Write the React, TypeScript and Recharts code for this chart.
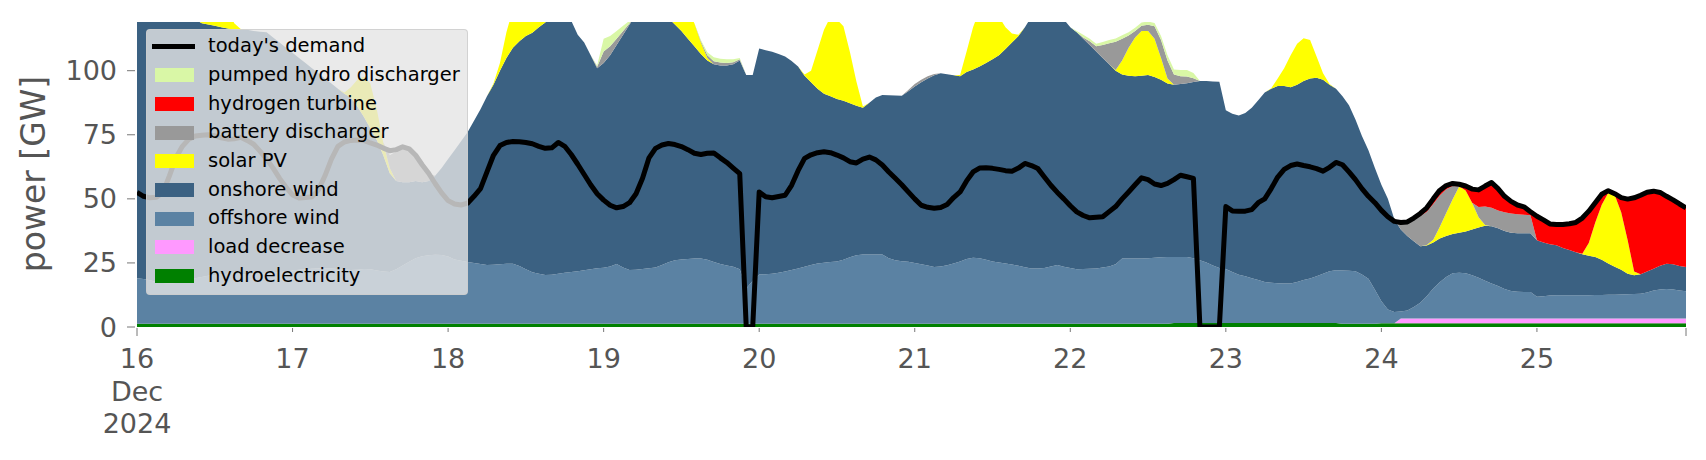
import React from 'react'
import { ComposedChart, Area, Line, XAxis, YAxis } from 'recharts'

// hourly values, 16 Dec 2024 00:00 .. 25 Dec 2024 23:00, one row per day
const dayLabels = ['16', '17', '18', '19', '20', '21', '22', '23', '24', '25']

const demand = [
  52.5, 51, 50.4, 50.6, 52.5, 59, 66, 70.5, 73.3, 74.5, 74.8, 75, 74.6, 73.8, 73.3, 73.4, 74, 72.8, 71.3, 68.5, 65.5, 62, 58, 54.5,
  51.5, 50.3, 50.5, 50.8, 53.5, 59, 65.5, 70.5, 72.2, 72.8, 73, 72.8, 71.8, 71, 69.8, 68.8, 69.2, 70.3, 69.5, 67, 63.3, 60, 56, 52.3,
  49.3, 48, 47.6, 48.3, 51, 54, 60.5, 67, 70.8, 72, 72.4, 72.3, 72, 71.5, 70.5, 69.7, 69.9, 72, 70.5, 67.3, 63.5, 59.5, 55.5, 52,
  49.5, 47.5, 46.5, 47, 48.5, 52, 58, 66, 69.7, 71, 71.6, 71.2, 70.4, 69.2, 67.8, 67.3, 67.8, 67.9, 66, 64.2, 62, 59.8, 0, 0,
  52.7, 50.8, 50.4, 50.9, 51.4, 55.3, 61, 65.8, 67.2, 68, 68.4, 68, 67.1, 66, 64.5, 64, 65.5, 66.3, 65.2, 63.2, 60.5, 58, 55.5, 52.7,
  50, 47.5, 46.7, 46.3, 46.6, 47.8, 50.5, 52.7, 57, 60.5, 62, 62.1, 61.9, 61.5, 61, 60.8, 62, 63.8, 63, 61.8, 58.5, 55.3, 52.5, 50,
  47.3, 44.9, 43.5, 42.6, 42.8, 43, 45, 47, 50, 52.7, 55.5, 58.2, 57.5, 55.8, 55.2, 56, 57.5, 59.2, 58.6, 58, 0, 0, 0, 0,
  47, 45.3, 45.2, 45.2, 45.8, 48.5, 50, 54, 58.5, 61.5, 63, 63.6, 63, 62.5, 61.8, 60.8, 62.3, 64.2, 63.3, 60.5, 57.5, 54, 51, 48.5,
  45.5, 43, 41.2, 40.8, 41, 42.5, 44.3, 46.5, 50, 53.3, 55.2, 56, 55.7, 55, 53.8, 53.5, 55, 56.4, 54, 51, 49, 47.6, 46.9, 45,
  43.2, 41.8, 40.2, 40, 40, 40.3, 40.8, 42.5, 45.2, 48.5, 51.8, 53.2, 52, 50.5, 49.9, 50.4, 51.4, 52.6, 53, 52.5, 51, 49.6, 48, 46.5,
]

const hydroelectricity = [
  1.3, 1.3, 1.3, 1.3, 1.3, 1.3, 1.3, 1.3, 1.3, 1.3, 1.3, 1.3, 1.3, 1.3, 1.3, 1.3, 1.3, 1.3, 1.3, 1.3, 1.3, 1.3, 1.3, 1.3,
  1.3, 1.3, 1.3, 1.3, 1.3, 1.3, 1.3, 1.3, 1.3, 1.3, 1.3, 1.3, 1.3, 1.3, 1.3, 1.3, 1.3, 1.3, 1.3, 1.3, 1.3, 1.3, 1.3, 1.3,
  1.3, 1.3, 1.3, 1.3, 1.3, 1.3, 1.3, 1.3, 1.3, 1.3, 1.3, 1.3, 1.3, 1.3, 1.3, 1.3, 1.3, 1.3, 1.3, 1.3, 1.3, 1.3, 1.3, 1.3,
  1.3, 1.3, 1.3, 1.3, 1.3, 1.3, 1.3, 1.3, 1.3, 1.3, 1.3, 1.3, 1.3, 1.3, 1.3, 1.3, 1.3, 1.3, 1.3, 1.3, 1.3, 1.3, 1.3, 1.3,
  1.3, 1.3, 1.3, 1.3, 1.3, 1.3, 1.3, 1.3, 1.3, 1.3, 1.3, 1.3, 1.3, 1.3, 1.3, 1.3, 1.3, 1.3, 1.3, 1.3, 1.3, 1.3, 1.3, 1.3,
  1.3, 1.3, 1.3, 1.3, 1.3, 1.3, 1.3, 1.3, 1.3, 1.3, 1.3, 1.3, 1.3, 1.3, 1.3, 1.3, 1.3, 1.3, 1.3, 1.3, 1.3, 1.3, 1.3, 1.3,
  1.3, 1.3, 1.3, 1.3, 1.3, 1.3, 1.3, 1.3, 1.3, 1.3, 1.3, 1.3, 1.3, 1.3, 1.3, 1.3, 1.6, 1.6, 1.6, 1.6, 1.6, 1.6, 1.6, 1.6,
  1.6, 1.6, 1.6, 1.6, 1.6, 1.6, 1.6, 1.6, 1.6, 1.6, 1.6, 1.6, 1.6, 1.6, 1.6, 1.6, 1.6, 1.6, 1.3, 1.3, 1.3, 1.3, 1.3, 1.3,
  1.5, 1.5, 1.5, 1.5, 1.5, 1.5, 1.5, 1.5, 1.5, 1.5, 1.5, 1.5, 1.5, 1.5, 1.5, 1.5, 1.5, 1.5, 1.5, 1.5, 1.5, 1.5, 1.5, 1.5,
  1.5, 1.5, 1.5, 1.5, 1.5, 1.5, 1.5, 1.5, 1.5, 1.5, 1.5, 1.5, 1.5, 1.5, 1.5, 1.5, 1.5, 1.5, 1.5, 1.5, 1.5, 1.5, 1.5, 1.5,
]

const loadDecrease = [
  0, 0, 0, 0, 0, 0, 0, 0, 0, 0, 0, 0, 0, 0, 0, 0, 0, 0, 0, 0, 0, 0, 0, 0,
  0, 0, 0, 0, 0, 0, 0, 0, 0, 0, 0, 0, 0, 0, 0, 0, 0, 0, 0, 0, 0, 0, 0, 0,
  0, 0, 0, 0, 0, 0, 0, 0, 0, 0, 0, 0, 0, 0, 0, 0, 0, 0, 0, 0, 0, 0, 0, 0,
  0, 0, 0, 0, 0, 0, 0, 0, 0, 0, 0, 0, 0, 0, 0, 0, 0, 0, 0, 0, 0, 0, 0, 0,
  0, 0, 0, 0, 0, 0, 0, 0, 0, 0, 0, 0, 0, 0, 0, 0, 0, 0, 0, 0, 0, 0, 0, 0,
  0, 0, 0, 0, 0, 0, 0, 0, 0, 0, 0, 0, 0, 0, 0, 0, 0, 0, 0, 0, 0, 0, 0, 0,
  0, 0, 0, 0, 0, 0, 0, 0, 0, 0, 0, 0, 0, 0, 0, 0, 0, 0, 0, 0, 0, 0, 0, 0,
  0, 0, 0, 0, 0, 0, 0, 0, 0, 0, 0, 0, 0, 0, 0, 0, 0, 0, 0, 0, 0, 0, 0, 0,
  0, 0, 0, 1.8, 1.8, 1.8, 1.8, 1.8, 1.8, 1.8, 1.8, 1.8, 1.8, 1.8, 1.8, 1.8, 1.8, 1.8, 1.8, 1.8, 1.8, 1.8, 1.8, 1.8,
  1.8, 1.8, 1.8, 1.8, 1.8, 1.8, 1.8, 1.8, 1.8, 1.8, 1.8, 1.8, 1.8, 1.8, 1.8, 1.8, 1.8, 1.8, 1.8, 1.8, 1.8, 1.8, 1.8, 1.8,
]

const offshoreWind = [
  17.7, 17.4, 16.9, 16.3, 15.9, 15.7, 15.9, 16.5, 17.2, 17.7, 18.2, 18.7, 19, 19.3, 19.5, 19.5, 19.3, 19.2, 19.3, 19.5, 19.7, 19.9, 20.2, 20.4,
  20.7, 21, 21.2, 21.4, 21.5, 21.5, 21.5, 21.3, 21.1, 20.9, 21, 21.3, 21.2, 20.7, 20.4, 20.2, 21.2, 22.7, 24.2, 25.5, 26.3, 26.7, 26.9, 26.8,
  26.2, 25, 24.5, 24.1, 23.7, 23.3, 22.9, 23, 23.2, 23.4, 23.4, 22.5, 21.2, 20.1, 19.5, 19, 19.1, 19.5, 19.9, 20.2, 20.5, 20.8, 21.2, 21.6,
  21.8, 22.3, 23.3, 21.9, 20.9, 21, 21.3, 21.6, 21.9, 22.9, 24, 24.7, 25, 25.2, 25.4, 25.4, 24.9, 24.1, 23.3, 22.7, 22.2, 21.2, 13.7, 16.7,
  19.2, 19.3, 19.5, 19.9, 20.4, 20.9, 21.5, 22.2, 22.9, 23.5, 23.8, 24.1, 24.3, 24.9, 25.9, 26.7, 27, 27, 27, 27, 25.5, 24.7, 24.4, 24.2,
  23.7, 23.2, 22.7, 22.1, 22.3, 22.8, 23.5, 24.3, 25.2, 25.7, 25.5, 24.9, 24.3, 23.9, 23.5, 23.1, 22.6, 22, 21.5, 21.5, 21.7, 22.3, 22.9, 22.2,
  21.7, 21.2, 21.3, 21.4, 21.5, 21.9, 22.3, 23.2, 25.4, 25.4, 25.4, 25.4, 25.5, 25.7, 25.9, 26, 25.7, 25.7, 25.7, 25.2, 24.4, 23.6, 22.4, 21.4,
  21, 19.9, 18.8, 18.2, 17.4, 16.7, 16, 15.7, 15.5, 15.4, 15.4, 16, 16.7, 17.3, 18.2, 19.2, 20.2, 20.5, 20.7, 20.6, 20.5, 19.2, 17.5, 13.2,
  8.5, 5.3, 4.4, 2.7, 3.1, 4.5, 6.2, 8.7, 11.7, 14.2, 16.2, 17.7, 17.9, 17.7, 16.9, 15.9, 14.7, 13.7, 12.7, 11.5, 10.7, 10.5, 10.4, 10.4,
  8.5, 8.7, 9, 9.1, 9.1, 9.1, 9.1, 9.1, 9.1, 9.2, 9.2, 9.3, 9.3, 9.4, 9.5, 9.6, 9.7, 10.2, 10.9, 11.3, 11.5, 11.3, 10.9, 10.6,
]

const onshoreWind = [
  109, 110.3, 111.8, 112.4, 111.8, 110, 107.8, 105.2, 103, 101, 99, 98, 97.2, 96.4, 95.7, 95.2, 95.4, 95.5, 94.9, 94.4, 94, 91.8, 89.5, 87.3,
  85, 82.7, 80.5, 78.3, 76.2, 74.2, 72.2, 70.4, 68.6, 67.3, 63.7, 59.4, 55, 51, 45.3, 38.5, 34.5, 32.5, 31, 30.2, 28.9, 29, 30.8, 33.9,
  38, 42.7, 46.7, 50.6, 55.5, 60.4, 65.8, 70.2, 75.5, 80.3, 84.3, 87.7, 91, 93.4, 96.2, 98.5, 102.6, 104.2, 102.8, 98, 92.2, 88.9, 83.5, 78.1,
  79.9, 82.4, 85.4, 90.8, 95.8, 99.7, 102.4, 103.1, 102.8, 100.8, 95.2, 92, 89.2, 86, 82.8, 79.8, 77.8, 77.1, 77.4, 78, 79, 81.5, 83.3, 80.3,
  88.2, 87.4, 86.6, 85.3, 83.8, 81.6, 78.8, 74.5, 71.3, 68.2, 65.9, 64.6, 63.4, 62.1, 60.1, 58.3, 57.2, 59.2, 61.2, 62.2, 63.6, 64.3, 64.5, 66.5,
  68.8, 71, 73, 74.8, 75.4, 74.5, 73.4, 72.2, 73, 73.5, 74.8, 76.8, 78.9, 80.8, 83.7, 86.6, 89.6, 93.7, 98.2, 101.2, 102, 101.4, 98.8, 96.5,
  94, 92.5, 89.9, 87.3, 84.7, 81.8, 78.9, 75.5, 71.8, 71.3, 71.1, 71.3, 71.5, 70.5, 69.3, 67.7, 67.2, 67.5, 67.8, 68.8, 70, 70.8, 71.8, 72.7,
  62, 61.7, 62.1, 63.7, 66.5, 70.2, 73.9, 75.7, 76.9, 77, 76.5, 76.9, 77.7, 78.1, 77.4, 75.7, 72.7, 70.9, 68, 64.6, 59.2, 54, 50.2, 47.5,
  45.5, 43.2, 36.1, 32, 29.1, 25.7, 22, 19.8, 18, 17, 16, 15.3, 15.6, 16.3, 17.8, 19.6, 21.5, 22.3, 22.5, 22.7, 22.8, 22.8, 22.9, 22.9,
  22, 21, 20, 19.5, 18.4, 17.6, 16.8, 16, 15.4, 14.8, 13.7, 12.2, 10.9, 9.6, 8, 7.3, 7.6, 8.2, 8.5, 9.3, 9.9, 9.9, 9.6, 9.5,
]

const solarPV = [
  0, 0, 0, 0, 0, 0, 0, 0, 0.5, 3, 7, 11, 13, 12, 8, 2.5, 0.3, 0, 0, 0, 0, 0, 0, 0,
  0, 0, 0, 0, 0, 0, 0, 0, 0.5, 4, 10.5, 15.7, 17.5, 12, 5, 2, 0, 0, 0, 0, 0, 0, 0, 0,
  0, 0, 0, 0, 0, 0, 0, 0.5, 3, 10, 15, 17, 16, 13, 8, 4, 1, 0, 0, 0, 0, 0, 0, 0,
  0, 0, 0, 0, 0, 0, 0, 0, 1, 4, 8, 12, 13, 11, 9, 4.5, 1, 0, 0, 0, 0, 0, 0, 0,
  0, 0, 0, 0, 0, 0, 0, 0.5, 4.5, 15, 25, 31, 31, 29, 20, 9.5, 0.5, 0, 0, 0, 0, 0, 0, 0,
  0, 0, 0, 0, 0, 0, 0, 0.5, 8, 16.5, 22, 24, 22, 15, 8.5, 3.5, 0.5, 0, 0, 0, 0, 0, 0, 0,
  0, 0, 0, 0, 0, 0, 0, 0.3, 5.5, 11, 15.2, 17.5, 17.2, 15, 8.5, 2, 0, 0, 0, 0, 0, 0, 0, 0,
  0, 0, 0, 0, 0, 0, 0, 0.2, 3, 7, 12.5, 16, 16.7, 15, 8.3, 2.5, 0.3, 0, 0, 0, 0, 0, 0, 0,
  0, 0, 0, 0, 0, 0, 0, 0.2, 1, 4.5, 9, 13.5, 18, 16, 10.5, 4, 0.3, 0, 0, 0, 0, 0, 0, 0,
  0, 0, 0, 0, 0, 0, 0, 0.2, 5, 13.5, 21.5, 27.5, 28, 22.5, 13, 1.5, 0, 0, 0, 0, 0, 0, 0, 0,
]

const batteryDischarger = [
  0, 0, 0, 0, 0, 0, 0, 0, 0, 0, 0, 0, 0, 0, 0, 0, 0, 0, 0, 0, 0, 0, 0, 0,
  0, 0, 0, 0, 0, 0, 0, 0, 0, 0, 0, 0, 0, 0, 0, 5, 11.5, 13.3, 12.5, 9.7, 6.5, 2.8, 0, 0,
  0, 0, 0, 0, 0, 0, 0, 0, 0, 0, 0, 0, 0, 0, 0, 0, 0, 0, 0, 0, 0, 0, 0, 0.5,
  4.5, 3.5, 2.5, 1.5, 0.5, 0, 0, 0, 0, 0, 0, 0, 0, 0, 0, 0.5, 1, 1.2, 1.2, 1, 0.8, 0.5, 0, 0,
  0, 0, 0, 0, 0, 0, 0, 0, 0, 0, 0, 0, 0, 0, 0, 0, 0, 0, 0, 0, 0, 0, 0, 0.5,
  1, 1, 0.8, 0.5, 0, 0, 0, 0, 0, 0, 0, 0, 0, 0, 0, 0, 0, 0, 0, 0, 0, 0, 0, 0,
  0, 0, 0.5, 1.5, 2, 5, 8.2, 11, 8.5, 4.7, 2.5, 2, 2.4, 4.8, 7, 7, 4, 3, 2.6, 1.5, 0, 0, 0, 0,
  0, 0, 0, 0, 0, 0, 0, 0, 0, 0, 0, 0, 0, 0, 0, 0, 0, 0, 0, 0, 0, 0, 0, 0,
  0, 0, 0, 2.3, 5, 8.2, 11.8, 13, 14, 12.3, 9.2, 5.2, 0.1, 0, 0, 4, 7.2, 7.2, 7, 7.3, 7.5, 7.4, 7.2, 7,
  0, 0, 0, 0, 0, 0, 0, 0, 0, 0, 0, 0, 0, 0, 0, 0, 0, 0, 0, 0, 0, 0, 0, 0,
]

const hydrogenTurbine = [
  0, 0, 0, 0, 0, 0, 0, 0, 0, 0, 0, 0, 0, 0, 0, 0, 0, 0, 0, 0, 0, 0, 0, 0,
  0, 0, 0, 0, 0, 0, 0, 0, 0, 0, 0, 0, 0, 0, 0, 0, 0, 0, 0, 0, 0, 0, 0, 0,
  0, 0, 0, 0, 0, 0, 0, 0, 0, 0, 0, 0, 0, 0, 0, 0, 0, 0, 0, 0, 0, 0, 0, 0,
  0, 0, 0, 0, 0, 0, 0, 0, 0, 0, 0, 0, 0, 0, 0, 0, 0, 0, 0, 0, 0, 0, 0, 0,
  0, 0, 0, 0, 0, 0, 0, 0, 0, 0, 0, 0, 0, 0, 0, 0, 0, 0, 0, 0, 0, 0, 0, 0,
  0, 0, 0, 0, 0, 0, 0, 0, 0, 0, 0, 0, 0, 0, 0, 0, 0, 0, 0, 0, 0, 0, 0, 0,
  0, 0, 0, 0, 0, 0, 0, 0, 0, 0, 0, 0, 0, 0, 0, 0, 0, 0, 0, 0, 0, 0, 0, 0,
  0, 0, 0, 0, 0, 0, 0, 0, 0, 0, 0, 0, 0, 0, 0, 0, 0, 0, 0, 0, 0, 0, 0, 0,
  0, 0, 0, 0.5, 0.5, 0.8, 1, 1.5, 2, 2, 1.5, 1, 0.8, 1.7, 5.3, 6.7, 8, 9.9, 8.5, 6.2, 4.7, 3.6, 3.1, 1.4,
  9.4, 8.8, 7.9, 8.1, 9.2, 10.3, 11.6, 13.9, 12.4, 7.7, 4.1, 0.9, 0.5, 5.7, 16.1, 28.7, 30.8, 30.9, 30.3, 28.6, 26.3, 25.1, 24.2, 23.1,
]

const pumpedHydro = [
  0, 0, 0, 0, 0, 0, 0, 0, 0, 0, 0, 0, 0, 0, 0, 0, 0, 0, 0, 0, 0, 0, 0, 0,
  0, 0, 0, 0, 0, 0, 0, 0, 0, 0, 0, 0, 0, 0, 0, 0, 0, 0, 0, 0, 0, 0, 0, 0,
  0, 0, 0, 0, 0, 0, 0, 0, 0, 0, 0, 0, 0, 0, 0, 0, 0, 0, 0, 0, 0, 0, 0, 0.5,
  5, 4, 3, 2, 1, 0.3, 0, 0, 0, 0, 0, 0, 0, 0, 0, 0.5, 1.2, 1.5, 1.5, 1.5, 1.2, 0.5, 0, 0,
  0, 0, 0, 0, 0, 0, 0, 0, 0, 0, 0, 0, 0, 0, 0, 0, 0, 0, 0, 0, 0, 0, 0, 0,
  0, 0, 0, 0, 0, 0, 0, 0, 0, 0, 0, 0, 0, 0, 0, 0, 0, 0, 0, 0, 0, 0, 0, 0,
  0, 0.5, 1, 1, 1, 1.2, 1.3, 1.3, 1.3, 1.3, 1.3, 1.3, 1.3, 1.3, 1.5, 2, 2, 2.5, 2.6, 2, 0, 0, 0, 0,
  0, 0, 0, 0, 0, 0, 0, 0, 0, 0, 0, 0, 0, 0, 0, 0, 0, 0, 0, 0, 0, 0, 0, 0,
  0, 0, 0, 0, 0, 0, 0, 0, 0, 0, 0, 0, 0, 0, 0, 0, 0, 0, 0, 0, 0, 0, 0, 0,
  0, 0, 0, 0, 0, 0, 0, 0, 0, 0, 0, 0, 0, 0, 0, 0, 0, 0, 0, 0, 0, 0, 0, 0,
]

const yTicks = [0, 25, 50, 75, 100]

// bottom to top of the stack
const STACK = [
  { key: 'hydro', name: 'hydroelectricity', color: '#008000', values: hydroelectricity },
  { key: 'load', name: 'load decrease', color: '#ff99ff', values: loadDecrease },
  { key: 'offshore', name: 'offshore wind', color: '#5b82a3', values: offshoreWind },
  { key: 'onshore', name: 'onshore wind', color: '#3b6182', values: onshoreWind },
  { key: 'solar', name: 'solar PV', color: '#ffff00', values: solarPV },
  { key: 'battery', name: 'battery discharger', color: '#999999', values: batteryDischarger },
  { key: 'h2', name: 'hydrogen turbine', color: '#ff0000', values: hydrogenTurbine },
  { key: 'phs', name: 'pumped hydro discharger', color: '#d9f7a6', values: pumpedHydro },
]

const data = demand.map((d, i) => {
  const row: any = { hour: i, demand: d }
  STACK.forEach(s => { row[s.key] = s.values[i] })
  return row
})

const FONT = 'DejaVu Sans, sans-serif'
const TEXT_GREY = '#555555'
const PLOT_BOTTOM = 327
const LAST_HOUR = demand.length - 1
const xTicks = [...dayLabels.map((_, i) => i * 24), LAST_HOUR]

const DayTick = ({ x, payload }: any) => {
  const v = payload.value
  const long = v === 0 || v === LAST_HOUR
  const tick = <line x1={x} x2={x} y1={PLOT_BOTTOM + 1} y2={PLOT_BOTTOM + (long ? 9 : 5)} stroke="#777" strokeWidth={1} />
  if (v % 24 !== 0) return <g>{tick}</g>
  const lines = v === 0 ? [dayLabels[0], 'Dec', '2024'] : [dayLabels[v / 24]]
  return (
    <g>
      {tick}
      {lines.map((t, i) => (
        <text key={i} x={x} y={368 + i * 32.5} textAnchor="middle" fontSize={27} fontFamily={FONT} fill={TEXT_GREY}>
          {t}
        </text>
      ))}
    </g>
  )
}

const GwTick = ({ y, payload }: any) => (
  <g>
    <line x1={127} x2={135} y1={y} y2={y} stroke="#777" strokeWidth={1} />
    <text x={117} y={y} textAnchor="end" dominantBaseline="central" fontSize={27} fontFamily={FONT} fill={TEXT_GREY}>
      {payload.value}
    </text>
  </g>
)

const YLabel = () => (
  <text x={45} y={174} transform="rotate(-90 45 174)" textAnchor="middle" fontSize={33} fontFamily={FONT} fill={TEXT_GREY}>
    power [GW]
  </text>
)

const ROW = 28.7
const legendItems = [
  { name: "today's demand", color: '#000000', line: true },
  ...[...STACK].reverse().map(s => ({ name: s.name, color: s.color, line: false })),
]

function ChartLegend() {
  return (
    <div
      style={{
        position: 'absolute', left: 146, top: 29, width: 322, height: 266,
        background: 'rgba(229,229,229,0.8)', border: '1px solid rgba(204,204,204,0.8)',
        borderRadius: 4, boxSizing: 'border-box', fontFamily: FONT, fontSize: 19.5, color: '#000',
      }}
    >
      {legendItems.map((it, i) => {
        const cy = 16.5 + i * ROW
        return (
          <React.Fragment key={it.name}>
            {it.line ? (
              <div style={{ position: 'absolute', left: 5, top: cy - 2.5, width: 43, height: 5, background: it.color }} />
            ) : (
              <div style={{ position: 'absolute', left: 7.5, top: cy - 7, width: 39, height: 14, background: it.color }} />
            )}
            <div style={{ position: 'absolute', left: 61, top: cy - ROW / 2, height: ROW, lineHeight: `${ROW}px`, whiteSpace: 'nowrap' }}>
              {it.name}
            </div>
          </React.Fragment>
        )
      })}
    </div>
  )
}

export default function App() {
  return (
    <div style={{ position: 'absolute', left: 0, top: 0, width: 1706, height: 460, background: '#fff' }}>
      <ComposedChart width={1706} height={460} data={data} margin={{ top: 22, right: 20, bottom: 103, left: 37 }}>
        <XAxis
          dataKey="hour"
          type="number"
          domain={[0, LAST_HOUR]}
          ticks={xTicks}
          interval={0}
          height={30}
          axisLine={false}
          tickLine={false}
          tick={<DayTick />}
          allowDataOverflow
        />
        <YAxis
          type="number"
          domain={[0, 119]}
          ticks={yTicks}
          interval={0}
          width={100}
          axisLine={false}
          tickLine={false}
          tick={<GwTick />}
          allowDataOverflow
          label={{ content: () => <YLabel /> }}
        />
        {STACK.map(s => (
          <Area
            key={s.key}
            dataKey={s.key}
            name={s.name}
            stackId="gen"
            type="linear"
            fill={s.color}
            fillOpacity={1}
            stroke="none"
            isAnimationActive={false}
          />
        ))}
        <Line
          dataKey="demand"
          name="today's demand"
          type="linear"
          stroke="#000"
          strokeWidth={5}
          strokeLinejoin="round"
          dot={false}
          activeDot={false}
          isAnimationActive={false}
        />
      </ComposedChart>
      <ChartLegend />
    </div>
  )
}
